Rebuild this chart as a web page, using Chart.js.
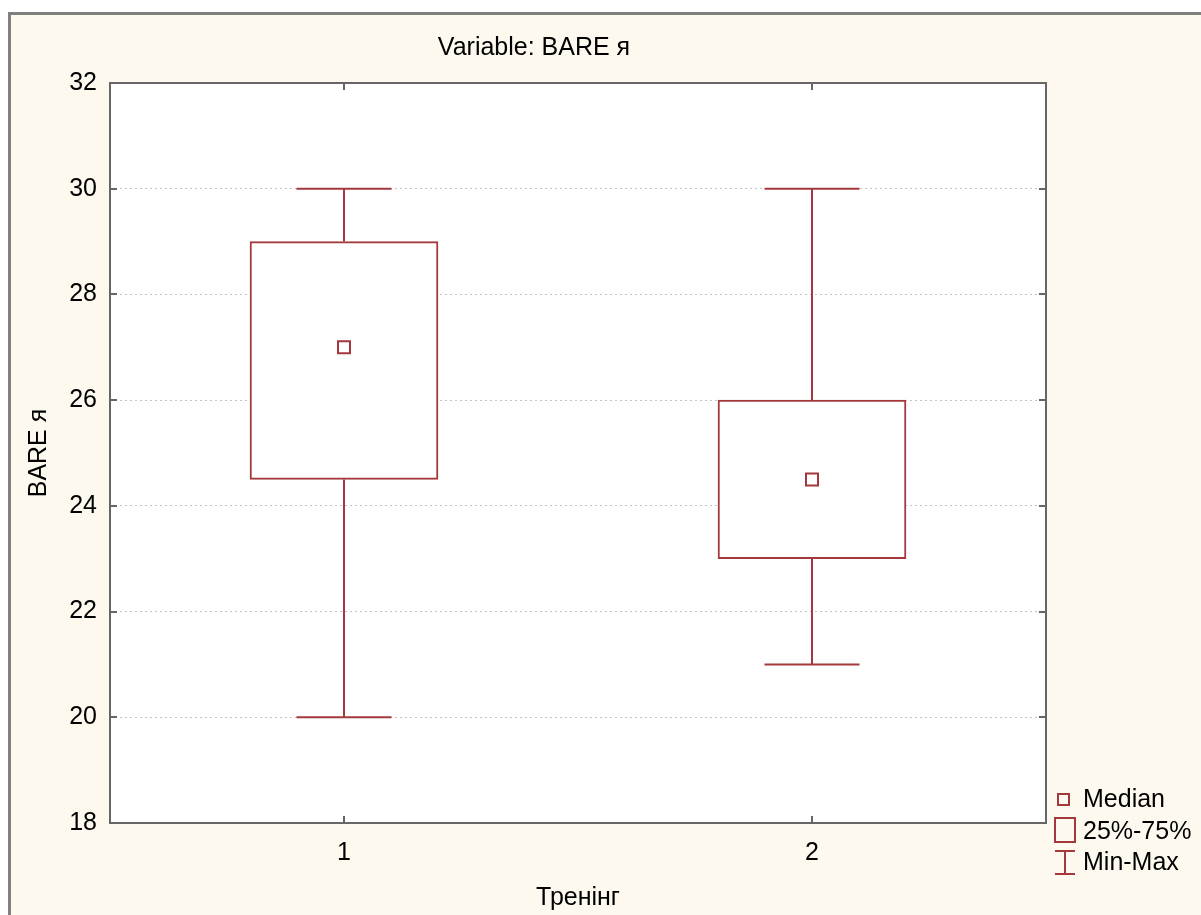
<!DOCTYPE html>
<html>
<head>
<meta charset="utf-8">
<script src="https://cdn.jsdelivr.net/npm/chart.js@4/dist/chart.umd.min.js"></script>
<style>
  html, body { margin: 0; padding: 0; background: #ffffff; }
  #wrap { position: absolute; left: 0; top: 0; width: 1201px; height: 915px; }
</style>
</head>
<body>
<div id="wrap"><canvas id="c" width="1201" height="915"></canvas></div>
<script>
// ---- data ----
const categories = ['1', '2'];
const minValues = [20, 21];
const q1Values = [24.5, 23];
const medianValues = [27, 24.5];
const q3Values = [29, 26];
const maxValues = [30, 30];
const yTicks = [18, 20, 22, 24, 26, 28, 30, 32];
const chartTitle = 'Variable: BARE я';
const xTitle = 'Тренінг';
const yTitle = 'BARE я';
const legendLabels = ['Median', '25%-75%', 'Min-Max'];

// ---- styles ----
const RED = '#a3383d';
const FONT = '"Liberation Sans", Arial, sans-serif';
const FS = 25;

// derived datasets
const boxData = categories.map((c, i) => [q1Values[i], q3Values[i]]);
const whiskerData = [];
categories.forEach((c, i) => {
  whiskerData.push({x: c, y: maxValues[i]}, {x: c, y: q3Values[i]}, {x: c, y: null},
                   {x: c, y: q1Values[i]}, {x: c, y: minValues[i]}, {x: c, y: null});
});
const capData = [];
categories.forEach((c, i) => { capData.push({x: c, y: minValues[i]}, {x: c, y: maxValues[i]}); });
const medianData = categories.map((c, i) => ({x: c, y: medianValues[i]}));

const framePlugin = {
  id: 'frame',
  beforeDraw(chart) {
    const ctx = chart.ctx;
    ctx.save();
    ctx.fillStyle = '#ffffff';
    ctx.fillRect(0, 0, chart.width, chart.height);
    ctx.fillStyle = '#fdf9ee';
    ctx.fillRect(9, 13, chart.width - 9, chart.height - 13);
    ctx.strokeStyle = '#808080';
    ctx.lineWidth = 3;
    ctx.beginPath();
    ctx.moveTo(9.5, chart.height);
    ctx.lineTo(9.5, 13.5);
    ctx.lineTo(chart.width, 13.5);
    ctx.stroke();
    const a = chart.chartArea;
    ctx.fillStyle = '#ffffff';
    ctx.fillRect(a.left, a.top, a.right - a.left, a.bottom - a.top);
    ctx.restore();
  },
  afterDraw(chart) {
    const ctx = chart.ctx;
    const a = chart.chartArea;
    const xs = chart.scales.x, ys = chart.scales.y;
    ctx.save();
    ctx.strokeStyle = '#666666';
    ctx.lineWidth = 2;
    ctx.strokeRect(a.left, a.top, a.right - a.left, a.bottom - a.top);
    ctx.lineWidth = 2;
    const tl = 7;
    ctx.beginPath();
    ys.ticks.forEach((t, i) => {
      const y = Math.round(ys.getPixelForTick(i));
      ctx.moveTo(a.left, y); ctx.lineTo(a.left + tl, y);
      ctx.moveTo(a.right, y); ctx.lineTo(a.right - tl, y);
    });
    xs.ticks.forEach((t, i) => {
      const x = Math.round(xs.getPixelForTick(i));
      ctx.moveTo(x, a.top); ctx.lineTo(x, a.top + tl);
      ctx.moveTo(x, a.bottom); ctx.lineTo(x, a.bottom - tl);
    });
    ctx.stroke();

    // title
    ctx.fillStyle = '#000000';
    ctx.font = FS + 'px ' + FONT;
    ctx.textAlign = 'center';
    ctx.textBaseline = 'middle';
    ctx.fillText(chartTitle, 534, 48);

    // legend
    ctx.textAlign = 'left';
    ctx.fillText(legendLabels[0], 1083, 800);
    ctx.fillText(legendLabels[1], 1083, 832);
    ctx.fillText(legendLabels[2], 1083, 863);
    ctx.strokeStyle = RED;
    ctx.lineWidth = 2;
    ctx.strokeRect(1058, 794, 11, 11);
    ctx.strokeRect(1055, 818, 20, 24);
    ctx.beginPath();
    ctx.moveTo(1055, 851); ctx.lineTo(1075, 851);
    ctx.moveTo(1065, 851); ctx.lineTo(1065, 874);
    ctx.moveTo(1055, 874); ctx.lineTo(1075, 874);
    ctx.stroke();
    ctx.restore();
  }
};

new Chart(document.getElementById('c'), {
  type: 'bar',
  data: {
    labels: categories,
    datasets: [
      {
        type: 'bar', label: '25%-75%', data: boxData, order: 3,
        backgroundColor: '#ffffff', borderColor: RED, borderWidth: 2,
        borderSkipped: false, barThickness: 188
      },
      {
        type: 'line', label: 'whisker', data: whiskerData, order: 2,
        borderColor: RED, borderWidth: 2, pointRadius: 0, spanGaps: false, fill: false
      },
      {
        type: 'line', label: 'cap', data: capData, order: 1, showLine: false,
        pointStyle: 'line', pointRadius: 47.5, pointBorderWidth: 2, pointBorderColor: RED,
        pointBackgroundColor: RED
      },
      {
        type: 'line', label: 'Median', data: medianData, order: 0, showLine: false,
        pointStyle: 'rect', pointRadius: 8.5, pointBorderWidth: 2, pointBorderColor: RED,
        pointBackgroundColor: '#ffffff'
      }
    ]
  },
  options: {
    responsive: false,
    animation: false,
    events: [],
    layout: { padding: { left: 0, top: 83, right: 155, bottom: 0 } },
    plugins: { legend: { display: false }, title: { display: false }, tooltip: { enabled: false } },
    scales: {
      x: {
        type: 'category',
        offset: true,
        grid: { display: false, drawTicks: false },
        border: { display: false },
        ticks: { color: '#000', font: { family: FONT, size: FS }, padding: 15 },
        title: { display: true, text: xTitle, color: '#000', font: { family: FONT, size: FS }, padding: 2 },
        afterFit(s) { s.height = 92; }
      },
      y: {
        min: 18, max: 32,
        afterBuildTicks(s) { s.ticks = yTicks.map(v => ({ value: v })); },
        grid: { color: '#c4c4c4', lineWidth: 1, drawTicks: false },
        border: { display: false, dash: [2, 3] },
        ticks: { color: '#000', font: { family: FONT, size: FS }, padding: 13 },
        title: { display: true, text: yTitle, color: '#000', font: { family: FONT, size: FS }, padding: 24 },
        afterFit(s) { s.width = 110; }
      }
    }
  },
  plugins: [framePlugin]
});
</script>
</body>
</html>
